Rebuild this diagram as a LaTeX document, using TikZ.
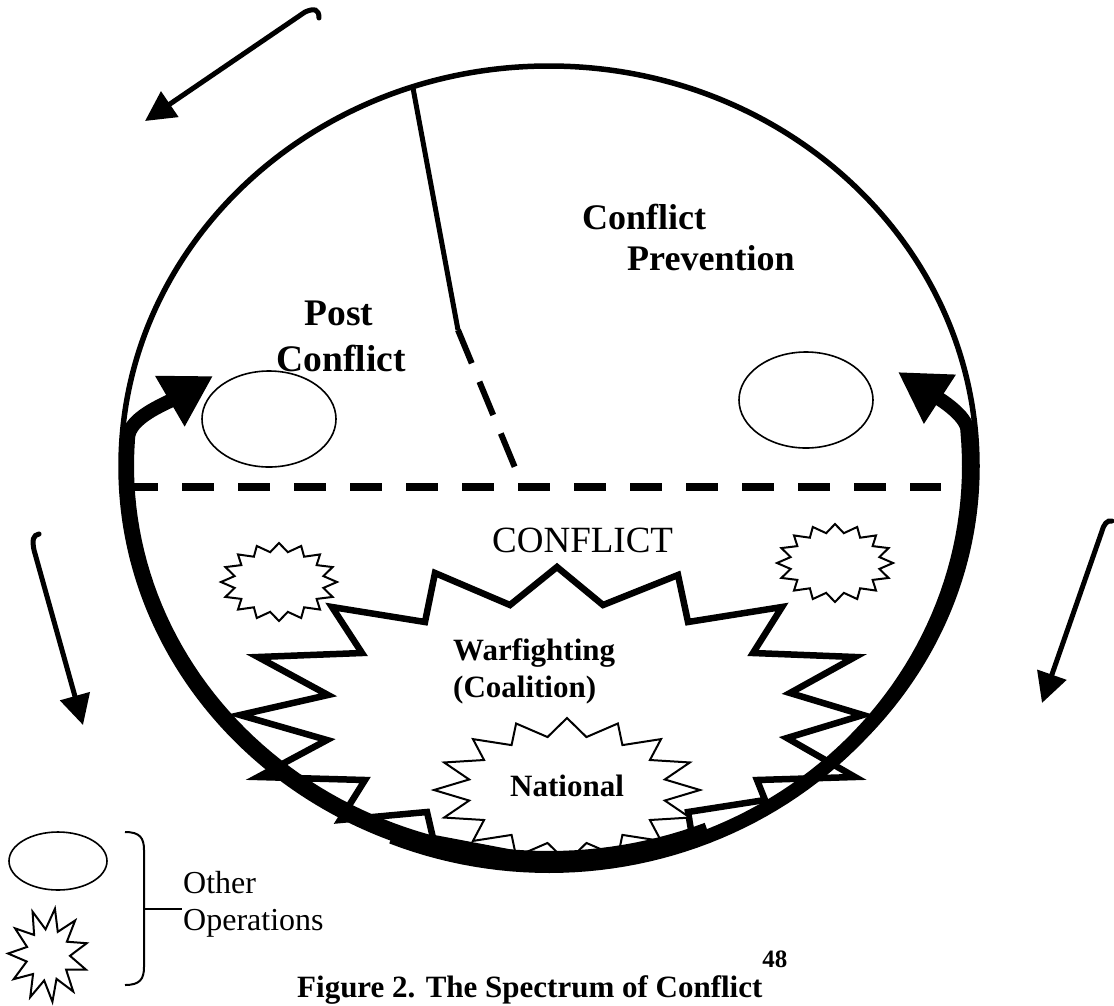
\documentclass[tikz,border=0pt]{standalone}
\usepackage{fontspec}
\setmainfont{Liberation Serif}
\usetikzlibrary{arrows.meta}
\newcommand\mystar[8]{plot[variable=\k, samples=#6, domain=0:#5] ({#1+#3*(mod(round(\k),2)==0?1:#7)*cos(\k*360/#5+#8)}, {#2-#4*(mod(round(\k),2)==0?1:#7)*sin(\k*360/#5+#8)}) -- cycle}
\tikzset{
  rim/.style={line width=5.5pt},
  heavy/.style={line width=14pt, line join=round, -{Triangle[length=50pt,width=55pt]}},
  outarrow/.style={line width=5pt, line cap=round, -{Triangle[length=30pt,width=30pt]}},
  smallop/.style={line width=1.6pt, fill=white},
  burst/.style={line width=2pt, fill=white, line join=miter},
  warburst/.style={line width=6.5pt, line join=miter, miter limit=20},
  boldlbl/.style={font=\bfseries\fontsize{31}{37}\selectfont, inner sep=0pt},
  phaselbl/.style={font=\bfseries\fontsize{36}{42}\selectfont, inner sep=0pt},
  postlbl/.style={font=\bfseries\fontsize{37.5}{42}\selectfont, inner sep=0pt},
  plainlbl/.style={font=\fontsize{32}{37}\selectfont, inner sep=0pt},
  caplbl/.style={font=\fontsize{37}{44}\selectfont, inner sep=0pt},
}
\begin{document}
\begin{tikzpicture}[x=1pt,y=-1pt]
\useasboundingbox (0,0) rectangle (1114,1005);
% main circle
\coordinate (C) at (549,466);
\draw[rim] (C) ellipse [x radius=428pt, y radius=400pt];
% radial divider
\coordinate (R1) at (413,88);
\coordinate (R2) at (458,330);
\coordinate (R3) at (523,487);
\draw[line width=5pt] (R1) -- (R2);
\draw[line width=6pt, dash pattern=on 36pt off 20pt] (R2) -- (R3);
% horizontal dashed divider
\coordinate (H1) at (126,487);
\coordinate (H2) at (941,487);
\draw[line width=8.5pt, dash pattern=on 32pt off 24pt] (H1) -- (H2);
% other operations (ellipses)
\draw[smallop] (269,419) ellipse [x radius=67pt, y radius=48pt];
\draw[smallop] (806,400) ellipse [x radius=67pt, y radius=48pt];
% small bursts
\draw[burst] \mystar{279}{582}{58}{39}{32}{33}{0.78}{90};
\draw[burst] \mystar{835}{563}{58}{39}{32}{33}{0.78}{90};
% warfighting burst
\draw[warburst] (332,607) -- (425,622) -- (435,573) -- (510,605) -- (557,567) -- (603,605)
  -- (678,575) -- (688,622) -- (782,607) -- (753,653) -- (855,657) -- (790,693)
  -- (863,715) -- (787,738) -- (855,777) -- (757,780) -- (765,800) -- (688,812)
  -- (693,842) -- (560,862) -- (433,838) -- (427,812) -- (340,820) -- (365,780)
  -- (258,777) -- (327,740) -- (240,715) -- (328,695) -- (258,657) -- (362,653) -- cycle;
% national burst
\draw[burst] \mystar{567}{790}{133}{72}{32}{33}{0.75}{90};
% heavy arcs with arrows
\draw[heavy] plot[variable=\t, domain=292:176, samples=70] ({549+422*cos(\t)},{466-392*sin(\t)})
  .. controls (128,418) and (165,404) .. (213,376);
\draw[heavy] plot[variable=\t, domain=248:365, samples=70] ({549+420*cos(\t)},{466-400*sin(\t)})
  .. controls (968,416) and (938,398) .. (898,372);
% outside arrows
\draw[outarrow] (319,18) .. controls (319,9) and (314,8) .. (305,12) -- (145,121);
\draw[outarrow] (39,534) .. controls (33,535) and (32,540) .. (34,550) -- (83,725);
\draw[outarrow] (1112,521) .. controls (1107,520) and (1104,524) .. (1102,531) -- (1042,703);
% labels
\node[phaselbl, anchor=base west] (cp1) at (582,229) {Conflict};
\node[phaselbl, anchor=base west] (cp2) at (627,270) {Prevention};
\node[postlbl, anchor=base] (pc1) at (339,325) {Post};
\node[postlbl, anchor=base] (pc2) at (341,371) {Conflict};
\node[caplbl, anchor=base west] (cfl) at (492,552) {CONFLICT};
\node[boldlbl, anchor=base west] (wf1) at (453,660) {Warfighting};
\node[boldlbl, anchor=base west] (wf2) at (453,697) {(Coalition)};
\node[boldlbl, anchor=base west] (nat) at (510,796) {National};
% legend
\draw[smallop] (58,861) ellipse [x radius=49pt, y radius=29pt];
\draw[burst] \mystar{48}{955}{40}{47}{22}{23}{0.55}{80};
\coordinate (B1) at (125,832);
\coordinate (B2) at (125,985);
\coordinate (BT) at (144,909);
\coordinate (BE) at (182,909);
\draw[line width=2pt] (B1) .. controls (140,832) and (144,838) .. (144,850) -- (144,967)
  .. controls (144,979) and (140,985) .. (B2);
\draw[line width=1.6pt] (BT) -- (BE);
\node[plainlbl, anchor=base west] (oth1) at (183,893) {Other};
\node[plainlbl, anchor=base west] (oth2) at (183,930) {Operations};
% caption
\node[boldlbl, anchor=base west] (cap) at (297,997) {Figure 2. The Spectrum of Conflict\raisebox{30pt}{\fontsize{25}{25}\selectfont 48}};
\end{tikzpicture}
\end{document}
